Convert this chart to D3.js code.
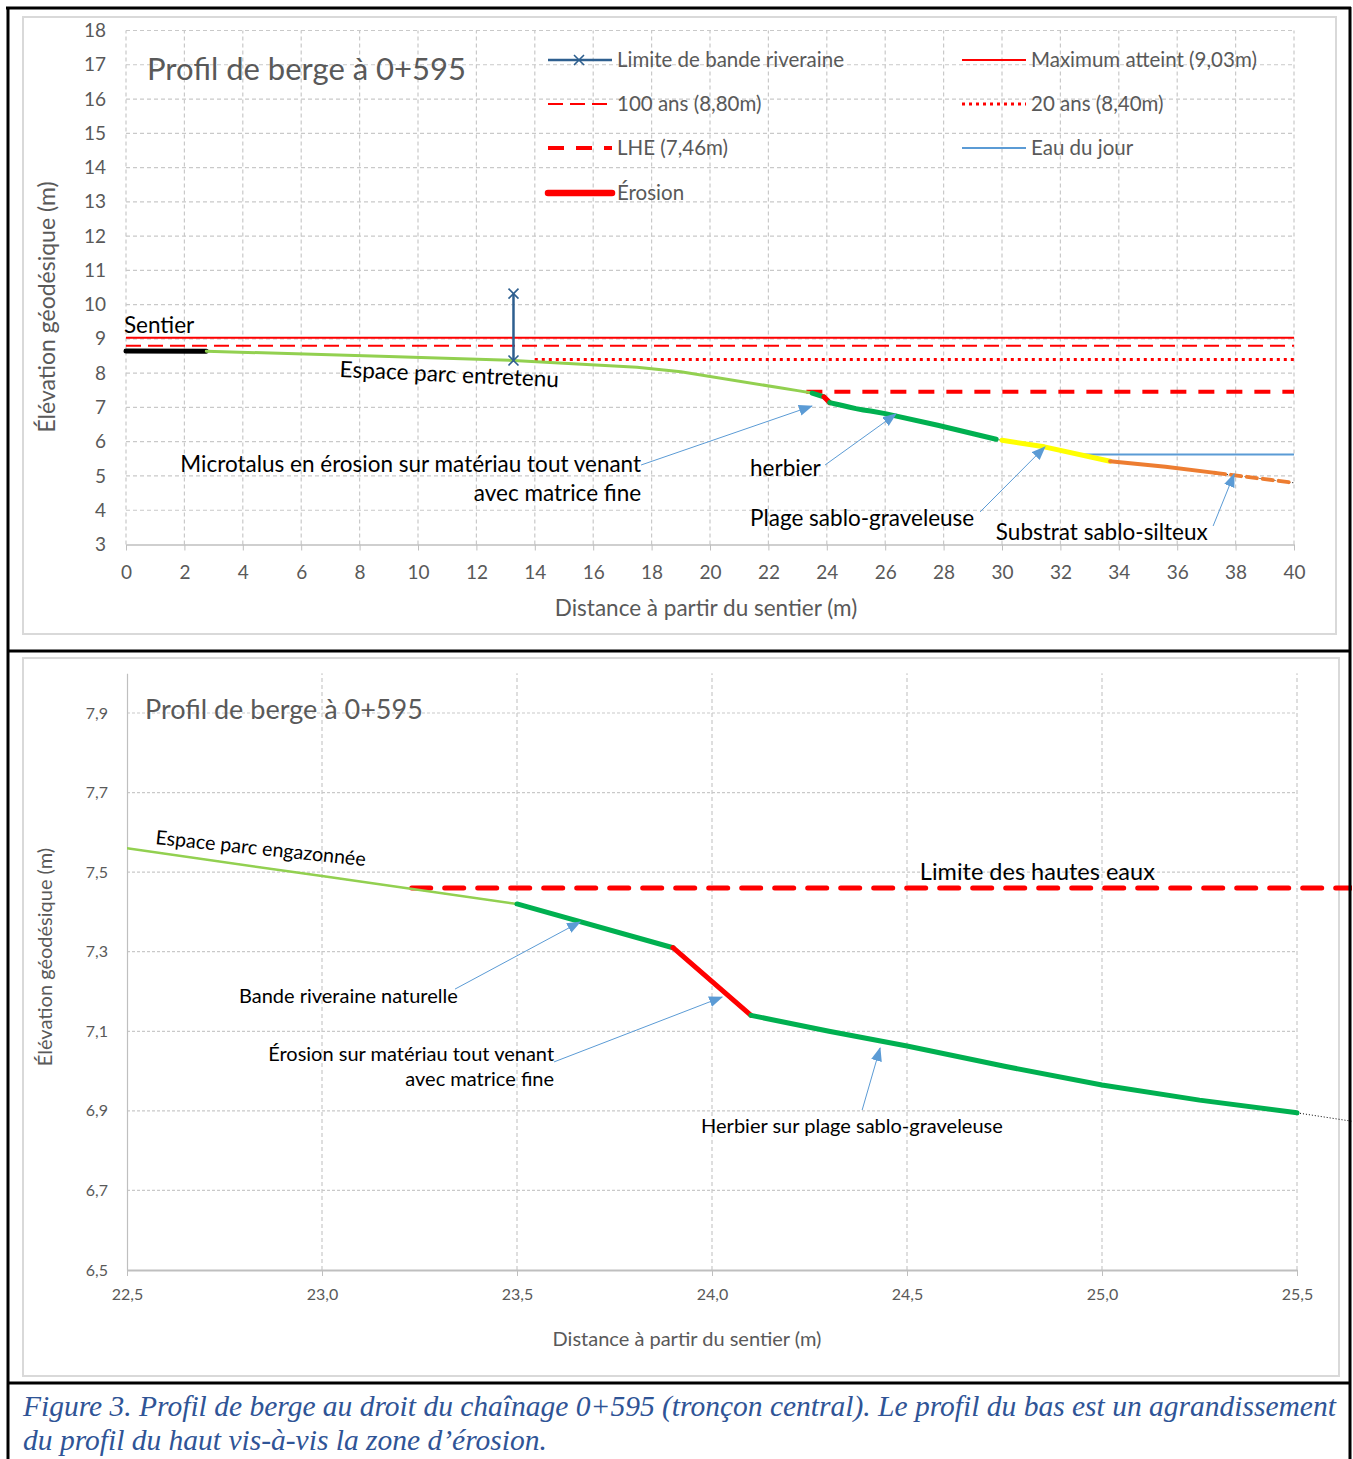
<!DOCTYPE html>
<html>
<head>
<meta charset="utf-8">
<script src="https://cdn.jsdelivr.net/npm/d3@7"></script>
<style>
  body { margin: 0; background: #fff; }
  text { font-family: Lato, "Open Sans", sans-serif; }
  text.serif { font-family: "Liberation Serif", "DejaVu Serif", serif; font-style: italic; }
  .legende { fill: #595959; font-size: 20.5px; }
</style>
</head>
<body>
<div id="figure"></div>
<script>
const profilX = [0, 2.75, 9.0, 13.27, 17.5, 19.0, 22.5, 23.0, 23.5, 23.9, 24.1, 24.3, 24.5, 24.75, 25.0, 25.25, 25.5, 26.0, 27.8, 29.8, 30.0, 31.45, 33.7, 35.6, 37.3, 40];
const profilY = [8.65, 8.64, 8.49, 8.37, 8.17, 8.04, 7.56, 7.49, 7.42, 7.31, 7.14, 7.10, 7.063, 7.012, 6.965, 6.927, 6.895, 6.82, 6.48, 6.07, 6.04, 5.85, 5.43, 5.27, 5.09, 4.80];

// segments colorés du profil (début / fin en m)
const segNoms  = ["sentier", "parc", "bande", "erosion", "herbier", "plage", "substrat", "substratExtrapole"];
const segDebut = [0, 2.75, 23.5, 23.9, 24.1, 30.0, 33.7, 37.3];
const segFin   = [2.75, 23.5, 23.9, 24.1, 29.8, 33.7, 37.3, 40];

// niveaux d'eau (m)
const niveauxNoms  = ["max", "cent", "vingt", "lhe", "eau"];
const niveauxY     = [9.03, 8.80, 8.40, 7.46, 5.63];
const niveauxDebut = [0, 0, 14.0, 23.3, 32.6];
const niveauxDebutBas = [22.5, 22.5, 22.5, 23.23, 22.5];

// limite de bande riveraine
const limiteX = [13.27, 13.27];
const limiteY = [8.37, 10.32];

// ticks
const ticksXHaut = d3.range(0, 41, 2);
const ticksYHaut = d3.range(3, 19, 1);
const ticksXBas = [22.5, 23.0, 23.5, 24.0, 24.5, 25.0, 25.5];
const ticksYBas = [6.5, 6.7, 6.9, 7.1, 7.3, 7.5, 7.7, 7.9];

const legendeTextes = ["Limite de bande riveraine", "100 ans (8,80m)", "LHE (7,46m)", "Érosion",
                       "Maximum atteint (9,03m)", "20 ans (8,40m)", "Eau du jour"];
const legendeCles   = ["limite", "cent", "lhe", "erosion", "max", "vingt", "eau"];

// ---- styles ----
const styleSeg = {
  sentier:  {c: "#000000", w: 5},
  parc:     {c: "#92d050", w: 3},
  bande:    {c: "#00b050", w: 5},
  erosion:  {c: "#ff0000", w: 5},
  herbier:  {c: "#00b050", w: 5},
  plage:    {c: "#ffff00", w: 5},
  substrat: {c: "#ed7d31", w: 4},
  substratExtrapole: {c: "#ed7d31", w: 4, d: "10,6"}
};
const styleNiv = {
  max:   {c: "#ff0000", w: 2},
  cent:  {c: "#ff0000", w: 1.8, d: "15,7"},
  vingt: {c: "#ff0000", w: 3, d: "3,4"},
  lhe:   {c: "#ff0000", w: 4, d: "16,12"},
  eau:   {c: "#5b9bd5", w: 2},
  limite: {c: "#2e5f8f", w: 2.5}
};
const gris = "#595959";
const bleuFleche = "#5b9bd5";
const virgule = d3.formatLocale({decimal: ",", thousands: " ", grouping: [3], currency: ["", ""]}).format(".1f");

const W = 1353, H = 1459;
const svg = d3.select("#figure").append("svg").attr("width", W).attr("height", H);

const defs = svg.append("defs");
defs.append("marker").attr("id", "fleche")
  .attr("markerUnits", "userSpaceOnUse").attr("markerWidth", 14).attr("markerHeight", 12)
  .attr("refX", 13).attr("refY", 5.5).attr("orient", "auto")
  .append("path").attr("d", "M0,0 L14,5.5 L0,11 Z").attr("fill", bleuFleche);

// ---- cadre ----
svg.append("rect").attr("x", 23).attr("y", 17).attr("width", 1313).attr("height", 617)
  .attr("fill", "none").attr("stroke", "#d9d9d9").attr("stroke-width", 2);
svg.append("rect").attr("x", 23).attr("y", 658).attr("width", 1316).attr("height", 718)
  .attr("fill", "none").attr("stroke", "#d9d9d9").attr("stroke-width", 2);

// ---- graphique du haut ----
const xH = d3.scaleLinear().domain([0, 40]).range([126, 1294]);
const yH = d3.scaleLinear().domain([3, 18]).range([544.5, 30.5]);
const gH = svg.append("g");

function grille(g, x, y, xs, ys, dX, dY) {
  g.append("g").selectAll("line").data(xs).join("line")
    .attr("x1", d => x(d)).attr("x2", d => x(d))
    .attr("y1", y.range()[0]).attr("y2", y.range()[1])
    .attr("stroke", "#c9c9c9").attr("stroke-width", 1.2).attr("stroke-dasharray", dX);
  g.append("g").selectAll("line").data(ys).join("line")
    .attr("x1", x.range()[0]).attr("x2", x.range()[1])
    .attr("y1", d => y(d)).attr("y2", d => y(d))
    .attr("stroke", "#c9c9c9").attr("stroke-width", 1.2).attr("stroke-dasharray", dY);
}
grille(gH, xH, yH, ticksXHaut, ticksYHaut.filter(d => d > 3), "4,3", "4,3");

gH.append("g").attr("transform", `translate(0,${yH(3)})`)
  .call(d3.axisBottom(xH).tickValues(ticksXHaut).tickSize(6).tickSizeOuter(0).tickPadding(15).tickFormat(d3.format("d")))
  .call(g => {
    g.select(".domain").attr("stroke", "#bfbfbf").attr("stroke-width", 1.5);
    g.selectAll(".tick line").attr("stroke", "#bfbfbf");
    g.selectAll("text").attr("fill", gris).style("font-size", "19px");
  });
gH.append("g").attr("transform", `translate(${xH(0)},0)`)
  .call(d3.axisLeft(yH).tickValues(ticksYHaut).tickSize(0).tickPadding(20).tickFormat(d3.format("d")))
  .call(g => {
    g.select(".domain").remove();
    g.selectAll("text").attr("fill", gris).style("font-size", "19px");
  });

gH.append("text").attr("x", 147).attr("y", 80).attr("fill", gris).style("font-size", "31px")
  .text("Profil de berge à 0+595");
gH.append("text").attr("x", 706).attr("y", 616).attr("text-anchor", "middle").attr("fill", gris)
  .style("font-size", "22.5px").text("Distance à partir du sentier (m)");
gH.append("text").attr("transform", "translate(55,307) rotate(-90)").attr("text-anchor", "middle")
  .attr("fill", gris).style("font-size", "23px").text("Élévation géodésique (m)");

const profil = profilX.map((x, i) => ({x: x, y: profilY[i]}));

function dessinerProfil(g, x, y, xMax) {
  const ligne = d3.line().x(d => x(d.x)).y(d => y(d.y));
  // profil complet en pointillé fin
  g.append("path").datum(profil).attr("d", ligne)
    .attr("fill", "none").attr("stroke", "#000").attr("stroke-width", 1).attr("stroke-dasharray", "1,2");
  segNoms.forEach((nom, i) => {
    const fin = Math.min(segFin[i], xMax);
    if (fin <= segDebut[i]) return;
    const pts = profil.filter(p => p.x >= segDebut[i] - 1e-9 && p.x <= fin + 1e-9);
    const s = styleSeg[nom];
    g.append("path").datum(pts).attr("d", ligne)
      .attr("fill", "none").attr("stroke", s.c).attr("stroke-width", s.w)
      .attr("stroke-linecap", "round").attr("stroke-linejoin", "round")
      .attr("stroke-dasharray", s.d || null);
  });
}

function dessinerNiveaux(g, x, y, debuts, xFin) {
  niveauxNoms.forEach((nom, i) => {
    const s = styleNiv[nom];
    g.append("line").attr("x1", x(debuts[i])).attr("x2", x(xFin))
      .attr("y1", y(niveauxY[i])).attr("y2", y(niveauxY[i]))
      .attr("stroke", s.c).attr("stroke-width", s.w).attr("stroke-dasharray", s.d || null);
  });
}

dessinerNiveaux(gH, xH, yH, niveauxDebut, 40);
dessinerProfil(gH, xH, yH, 40);

// limite de bande riveraine
const lim = limiteX.map((x, i) => ({x: x, y: limiteY[i]}));
gH.append("path").datum(lim).attr("d", d3.line().x(d => xH(d.x)).y(d => yH(d.y)))
  .attr("stroke", styleNiv.limite.c).attr("stroke-width", styleNiv.limite.w).attr("fill", "none");
gH.selectAll(".croix").data(lim).join("path")
  .attr("d", d => { const cx = xH(d.x), cy = yH(d.y), r = 5;
    return `M${cx - r},${cy - r}L${cx + r},${cy + r}M${cx - r},${cy + r}L${cx + r},${cy - r}`; })
  .attr("stroke", styleNiv.limite.c).attr("stroke-width", 1.6);

// annotations (coordonnées en unités du graphique)
function texte(g, x, y, px, py, t, taille, ancre, angle) {
  g.append("text")
    .attr("transform", `translate(${x(px)},${y(py)})` + (angle ? ` rotate(${angle})` : ""))
    .attr("text-anchor", ancre || "start").attr("fill", "#000")
    .style("font-size", taille + "px").text(t);
}
function fleche(g, x, y, x1, y1, x2, y2) {
  g.append("line").attr("x1", x(x1)).attr("y1", y(y1)).attr("x2", x(x2)).attr("y2", y(y2))
    .attr("stroke", bleuFleche).attr("stroke-width", 1).attr("marker-end", "url(#fleche)");
}

texte(gH, xH, yH, -0.07, 9.17, "Sentier", 22.5);
texte(gH, xH, yH, 11.06, 7.74, "Espace parc entretenu", 22.5, "middle", 2.7);
texte(gH, xH, yH, 17.64, 5.12, "Microtalus en érosion sur matériau tout venant", 22.5, "end");
texte(gH, xH, yH, 17.64, 4.27, "avec matrice fine", 22.5, "end");
fleche(gH, xH, yH, 17.64, 5.32, 23.49, 7.04);
texte(gH, xH, yH, 21.37, 5.0, "herbier", 22.5);
fleche(gH, xH, yH, 23.94, 5.32, 26.37, 6.81);
texte(gH, xH, yH, 21.37, 3.54, "Plage sablo-graveleuse", 22.5);
fleche(gH, xH, yH, 29.25, 3.95, 31.47, 5.85);
texte(gH, xH, yH, 29.79, 3.13, "Substrat sablo-silteux", 22.5);
fleche(gH, xH, yH, 37.23, 3.54, 37.95, 5.06);

// légende
const legX = [548, 548, 548, 548, 962, 962, 962];
const legY = [60, 104, 148, 193, 60, 104, 148];
legendeCles.forEach((cle, i) => {
  const s = cle === "erosion" ? {c: "#ff0000", w: 6.5} : styleNiv[cle];
  gH.append("line").attr("x1", legX[i]).attr("x2", legX[i] + 64).attr("y1", legY[i]).attr("y2", legY[i])
    .attr("stroke", s.c).attr("stroke-width", s.w).attr("stroke-dasharray", s.d || null)
    .attr("stroke-linecap", cle === "erosion" ? "round" : null);
  if (cle === "limite") {
    const cx = legX[i] + 31, cy = legY[i], r = 5;
    gH.append("path").attr("d", `M${cx - r},${cy - r}L${cx + r},${cy + r}M${cx - r},${cy + r}L${cx + r},${cy - r}`)
      .attr("stroke", s.c).attr("stroke-width", 1.6);
  }
  gH.append("text").attr("class", "legende").attr("x", legX[i] + 69).attr("y", legY[i] + 7)
    .text(legendeTextes[i]);
});

// ---- graphique du bas (agrandissement) ----
const xB = d3.scaleLinear().domain([22.5, 25.5]).range([127, 1297]);
const yB = d3.scaleLinear().domain([6.5, 8.0]).range([1270, 673.2]);
const gB = svg.append("g");

grille(gB, xB, yB, ticksXBas.filter(d => d > 22.5), ticksYBas.filter(d => d > 6.5), "4,3", "3,2");

gB.append("g").attr("transform", `translate(0,${yB(6.5)})`)
  .call(d3.axisBottom(xB).tickValues(ticksXBas).tickSize(6).tickSizeOuter(0).tickPadding(13).tickFormat(virgule))
  .call(g => {
    g.select(".domain").attr("stroke", "#bfbfbf").attr("stroke-width", 2);
    g.selectAll(".tick line").attr("stroke", "#bfbfbf");
    g.selectAll("text").attr("fill", gris).style("font-size", "16px");
  });
gB.append("g").attr("transform", `translate(${xB(22.5)},0)`)
  .call(d3.axisLeft(yB).tickValues(ticksYBas).tickSize(0).tickSizeOuter(0).tickPadding(19).tickFormat(virgule))
  .call(g => {
    g.select(".domain").attr("stroke", "#bfbfbf").attr("stroke-width", 1.2);
    g.selectAll("text").attr("fill", gris).style("font-size", "16px");
  });

gB.append("text").attr("x", 145).attr("y", 719).attr("fill", gris).style("font-size", "27px")
  .text("Profil de berge à 0+595");
gB.append("text").attr("x", 687).attr("y", 1346).attr("text-anchor", "middle").attr("fill", gris)
  .style("font-size", "20px").text("Distance à partir du sentier (m)");
gB.append("text").attr("transform", "translate(52,957) rotate(-90)").attr("text-anchor", "middle")
  .attr("fill", gris).style("font-size", "20px").text("Élévation géodésique (m)");

defs.append("clipPath").attr("id", "clipCadre").append("rect")
  .attr("x", xB(22.5)).attr("y", 660).attr("width", 1352 - xB(22.5)).attr("height", 720);
const gBc = gB.append("g").attr("clip-path", "url(#clipCadre)");
// seule la LHE est tracée dans l'agrandissement
const lheI = niveauxNoms.indexOf("lhe");
gBc.append("line").attr("x1", xB(niveauxDebutBas[lheI])).attr("x2", xB(40))
  .attr("y1", yB(niveauxY[lheI])).attr("y2", yB(niveauxY[lheI]))
  .attr("stroke", "#ff0000").attr("stroke-width", 5).attr("stroke-dasharray", "19,14").attr("stroke-linecap", "round");
dessinerProfil(gBc, xB, yB, 25.5);
gBc.selectAll("path").filter(function () { return d3.select(this).attr("stroke") === "#92d050"; })
  .attr("stroke-width", 2.5);

texte(gB, xB, yB, 22.841, 7.543, "Espace parc engazonnée", 19.7, "middle", 6);
texte(gB, xB, yB, 24.533, 7.48, "Limite des hautes eaux", 23.5);
texte(gB, xB, yB, 22.787, 7.171, "Bande riveraine naturelle", 20);
fleche(gB, xB, yB, 23.341, 7.206, 23.662, 7.375);
texte(gB, xB, yB, 23.595, 7.025, "Érosion sur matériau tout venant", 20, "end");
texte(gB, xB, yB, 23.595, 6.962, "avec matrice fine", 20, "end");
fleche(gB, xB, yB, 23.595, 7.023, 24.026, 7.186);
texte(gB, xB, yB, 23.972, 6.844, "Herbier sur plage sablo-graveleuse", 20);
fleche(gB, xB, yB, 24.385, 6.902, 24.431, 7.058);

// ---- cadre noir et légende de la figure ----
const cadre = svg.append("g").attr("stroke", "#000").attr("stroke-width", 3);
cadre.append("line").attr("x1", 6).attr("x2", 1351).attr("y1", 8).attr("y2", 8);
cadre.append("line").attr("x1", 8).attr("x2", 8).attr("y1", 7).attr("y2", H);
cadre.append("line").attr("x1", 1350).attr("x2", 1350).attr("y1", 7).attr("y2", H);
cadre.append("line").attr("x1", 8).attr("x2", 1350).attr("y1", 651).attr("y2", 651);
cadre.append("line").attr("x1", 8).attr("x2", 1350).attr("y1", 1383).attr("y2", 1383);

const legendeFig = svg.append("g");
legendeFig.append("text").attr("class", "serif").attr("x", 23).attr("y", 1416)
  .attr("fill", "#2f5496").style("font-size", "29.5px")
  .text("Figure 3. Profil de berge au droit du chaînage 0+595 (tronçon central). Le profil du bas est un agrandissement");
legendeFig.append("text").attr("class", "serif").attr("x", 23).attr("y", 1450)
  .attr("fill", "#2f5496").style("font-size", "29.5px")
  .text("du profil du haut vis-à-vis la zone d’érosion.");
</script>
</body>
</html>
